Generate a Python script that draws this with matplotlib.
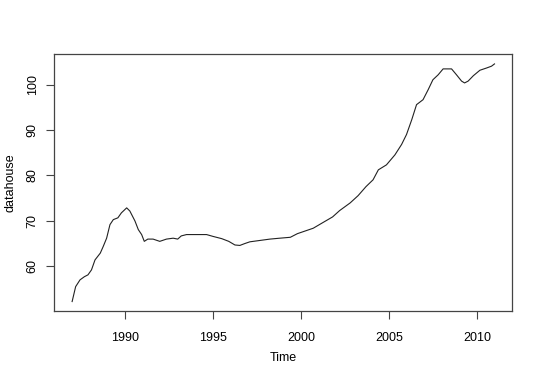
import matplotlib
matplotlib.use("Agg")
import matplotlib.pyplot as plt

plt.rcParams['font.family'] = ['Liberation Sans', 'DejaVu Sans']

# Time (years) and datahouse values
years = [1987.0, 1987.2, 1987.45, 1987.7, 1987.9, 1988.1, 1988.3, 1988.6, 1988.77, 1988.96,
         1989.15, 1989.34, 1989.6, 1989.8, 1990.1, 1990.28, 1990.57, 1990.76, 1990.95, 1991.1,
         1991.3, 1991.6, 1991.98, 1992.36, 1992.74, 1993.0, 1993.2, 1993.5, 1994.64, 1995.0,
         1995.5, 1995.9, 1996.25, 1996.53, 1996.8, 1997.1, 1997.67, 1998.24, 1998.8, 1999.4,
         1999.8, 2000.7, 2001.27, 2001.8, 2002.2, 2002.8, 2003.25, 2003.7, 2004.1, 2004.4,
         2004.86, 2005.34, 2005.72, 2006.0, 2006.3, 2006.57, 2006.94, 2007.23, 2007.5, 2007.8,
         2008.08, 2008.56, 2008.84, 2009.13, 2009.3, 2009.5, 2009.8, 2010.17, 2010.55, 2010.83,
         2011.0]
values = [52.1, 55.4, 56.9, 57.6, 58.0, 59.1, 61.3, 62.8, 64.3, 66.1,
          69.1, 70.2, 70.6, 71.7, 72.8, 72.1, 69.9, 68.0, 66.9, 65.4,
          65.9, 65.9, 65.4, 65.9, 66.1, 65.9, 66.6, 66.9, 66.9, 66.5,
          66.0, 65.4, 64.6, 64.5, 64.9, 65.3, 65.6, 65.9, 66.1, 66.3,
          67.1, 68.3, 69.6, 70.8, 72.2, 73.9, 75.5, 77.5, 79.0, 81.2,
          82.3, 84.5, 86.8, 89.0, 92.3, 95.6, 96.7, 98.9, 101.1, 102.2,
          103.5, 103.5, 102.2, 100.8, 100.4, 100.8, 102.0, 103.2, 103.7, 104.1,
          104.6]

xticks = [1990, 1995, 2000, 2005, 2010]
yticks = [60, 70, 80, 90, 100]

fig = plt.figure(figsize=(5.4, 3.8), dpi=100)
ax = fig.add_axes([0.1, 0.182, 0.848, 0.676])
ax.plot(years, values, color='#222222', lw=0.8)

ax.set_xlim(1985.97, 2011.99)
ax.set_ylim(50.05, 106.8)
ax.set_xticks(xticks)
ax.set_xticklabels([str(t) for t in xticks])
ax.set_yticks(yticks)
ax.set_yticklabels([str(t) for t in yticks], rotation=90, va='center')
ax.tick_params(direction='out', length=6, width=0.8, color='#444444', labelsize=9)
ax.tick_params(axis='x', pad=9)
ax.tick_params(axis='y', pad=5)
for s in ax.spines.values():
    s.set_color('#444444')
    s.set_linewidth(0.9)

ax.set_xlabel('Time', fontsize=9, va='center')
ax.set_ylabel('datahouse', fontsize=9, va='center')
ax.xaxis.set_label_coords(0.5, -0.183)
ax.yaxis.set_label_coords(-0.094, 0.5)

fig.savefig('out.png', dpi=100, facecolor='white')
